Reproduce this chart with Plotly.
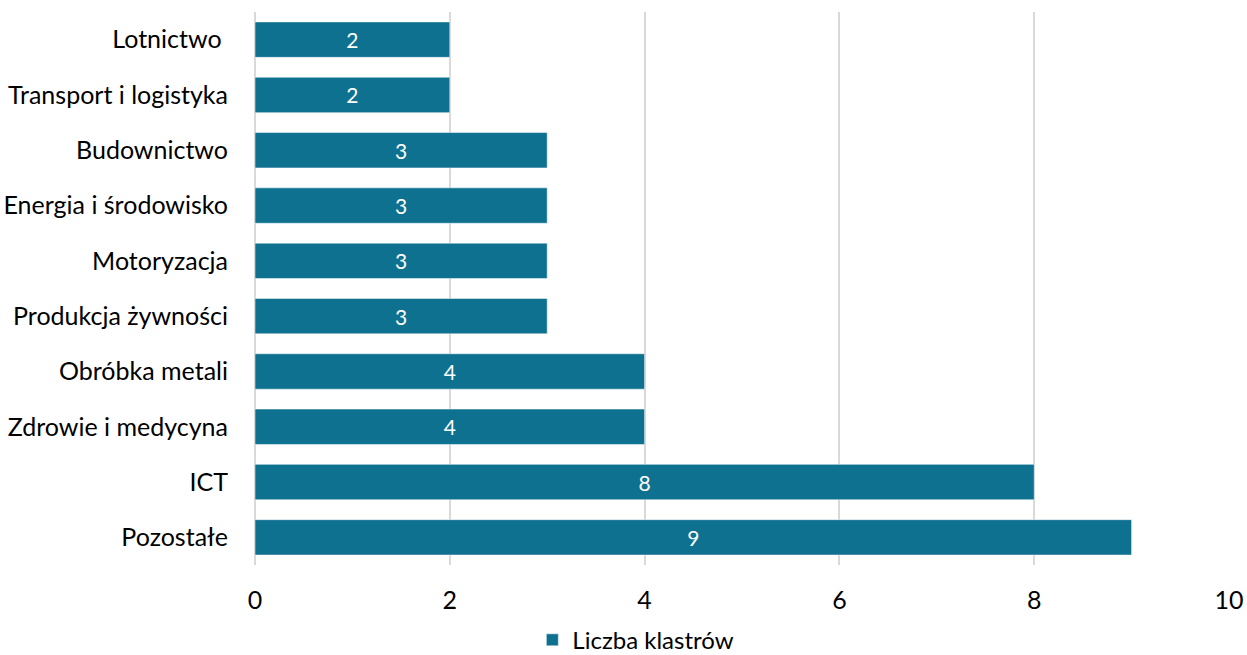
import plotly.graph_objects as go

categories = ["Lotnictwo\u00a0", "Transport i logistyka", "Budownictwo", "Energia i środowisko",
              "Motoryzacja", "Produkcja żywności", "Obróbka metali", "Zdrowie i medycyna",
              "ICT", "Pozostałe"]
values = [2, 2, 3, 3, 3, 3, 4, 4, 8, 9]
series_name = "Liczba klastrów"
x_ticks = [0, 2, 4, 6, 8, 10]

FONT = "Lato"
BAR = "#0E7190"

fig = go.Figure(go.Bar(
    y=categories, x=values, orientation="h", name=series_name,
    marker=dict(color=BAR, line=dict(color="#FFFFFF", width=0.5)),
    text=[str(v) for v in values], textposition="inside", insidetextanchor="middle",
    textfont=dict(color="white", size=21, family=FONT),
    showlegend=True,
))

fig.update_layout(
    width=1247, height=655,
    margin=dict(l=255, r=18, t=12, b=90, autoexpand=False),
    plot_bgcolor="white", paper_bgcolor="white",
    bargap=0.36,
    font=dict(family=FONT, size=25, color="#000000"),
    xaxis=dict(range=[0, 10], tickvals=x_ticks, showgrid=True, gridcolor="#D9D9D9",
               gridwidth=2, zeroline=True, zerolinecolor="#D9D9D9", zerolinewidth=2,
               showline=False, ticks="", ticklabelstandoff=18,
               tickfont=dict(size=25, family=FONT)),
    yaxis=dict(autorange="reversed", showgrid=False, showline=False, ticks="",
               ticklabelstandoff=26, tickfont=dict(size=25, family=FONT)),
    legend=dict(orientation="h", x=0.391, xanchor="center", y=-0.136, yanchor="middle",
                font=dict(size=24, family=FONT)),
)

fig.write_html("out.html")
